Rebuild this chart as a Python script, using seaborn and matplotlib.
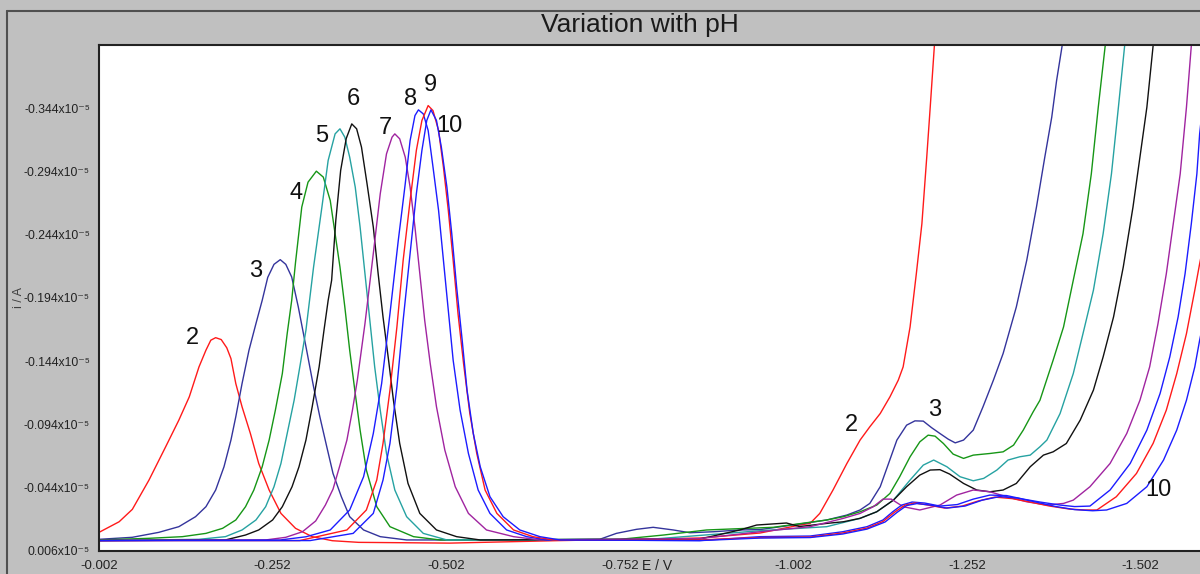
import matplotlib
matplotlib.use("Agg")
import matplotlib.pyplot as plt
import seaborn as sns
import pandas as pd
from matplotlib.lines import Line2D

# ===== data: (E / V, i / 1e-5 A) =====
ph2 = [(-0.002, -0.0085), (-0.031, -0.0169), (-0.050, -0.0267), (-0.074, -0.0499), (-0.098, -0.0762),
       (-0.117, -0.0973), (-0.132, -0.1157), (-0.146, -0.1394), (-0.156, -0.1526), (-0.163, -0.1605),
       (-0.170, -0.1625), (-0.178, -0.1610), (-0.186, -0.1545), (-0.192, -0.146), (-0.199, -0.1262),
       (-0.208, -0.1078), (-0.220, -0.0867),
       (-0.232, -0.063), (-0.247, -0.042), (-0.264, -0.0235), (-0.285, -0.0117), (-0.309, -0.0051),
       (-0.338, -0.0019), (-0.376, -0.0006), (-0.507, 0.0), (-0.666, -0.002), (-0.867, -0.004),
       (-0.954, -0.008), (-0.997, -0.0127), (-1.011, -0.0143), (-1.026, -0.0156), (-1.040, -0.0235),
       (-1.059, -0.042), (-1.079, -0.063), (-1.098, -0.0815), (-1.112, -0.092), (-1.127, -0.1025),
       (-1.141, -0.1157), (-1.153, -0.1289), (-1.160, -0.1394), (-1.170, -0.171), (-1.179, -0.2131),
       (-1.187, -0.2526), (-1.194, -0.3053), (-1.199, -0.3448), (-1.205, -0.3935), (-1.207, -0.405)]

ph3 = [(-0.002, -0.003), (-0.050, -0.0046), (-0.088, -0.0085), (-0.117, -0.013), (-0.141, -0.0209),
       (-0.156, -0.0288), (-0.170, -0.042), (-0.182, -0.0604), (-0.192, -0.0815), (-0.199, -0.100),
       (-0.208, -0.1262), (-0.218, -0.1526), (-0.228, -0.1736), (-0.237, -0.192), (-0.245, -0.2102),
       (-0.254, -0.2205), (-0.263, -0.2242), (-0.271, -0.2205), (-0.2795, -0.2105), (-0.289, -0.1868),
       (-0.301, -0.1526), (-0.311, -0.1236), (-0.320, -0.100), (-0.330, -0.0762), (-0.339, -0.0551),
       (-0.351, -0.0367), (-0.363, -0.0209), (-0.383, -0.0104), (-0.407, -0.0051), (-0.445, -0.0025),
       (-0.579, -0.0025), (-0.723, -0.003), (-0.747, -0.0077), (-0.776, -0.0109), (-0.800, -0.0125),
       (-0.829, -0.0104), (-0.853, -0.0082), (-0.887, -0.009), (-0.925, -0.0104), (-0.954, -0.0107),
       (-1.011, -0.0151), (-1.050, -0.0183), (-1.079, -0.0222), (-1.098, -0.0262), (-1.112, -0.0314),
       (-1.127, -0.0446), (-1.139, -0.063), (-1.151, -0.0815), (-1.165, -0.0933), (-1.177, -0.0967),
       (-1.189, -0.0965), (-1.201, -0.0913), (-1.213, -0.0867), (-1.225, -0.0822), (-1.235, -0.0793),
       (-1.247, -0.0815), (-1.261, -0.0894), (-1.275, -0.1078), (-1.290, -0.1289), (-1.304, -0.150),
       (-1.323, -0.1868), (-1.338, -0.2237), (-1.352, -0.2658), (-1.364, -0.3053), (-1.374, -0.3369),
       (-1.381, -0.3659), (-1.389, -0.3935), (-1.392, -0.405)]

ph4 = [(-0.002, -0.0025), (-0.074, -0.0038), (-0.122, -0.0051), (-0.156, -0.0077), (-0.180, -0.0117),
       (-0.199, -0.0183), (-0.213, -0.0288), (-0.225, -0.042), (-0.237, -0.0604), (-0.247, -0.0815),
       (-0.256, -0.1052), (-0.266, -0.1341), (-0.273, -0.1657), (-0.2795, -0.192), (-0.285, -0.222),
       (-0.294, -0.2658), (-0.303, -0.2855), (-0.315, -0.2942), (-0.325, -0.2895), (-0.335, -0.271),
       (-0.342, -0.2447), (-0.349, -0.2184), (-0.356, -0.1868), (-0.363, -0.1526), (-0.371, -0.1183),
       (-0.378, -0.0894), (-0.387, -0.0578), (-0.402, -0.0288), (-0.421, -0.013), (-0.455, -0.0051),
       (-0.493, -0.0025), (-0.752, -0.003), (-0.815, -0.0064), (-0.877, -0.0104), (-0.973, -0.0125),
       (-1.050, -0.0183), (-1.074, -0.0209), (-1.098, -0.0248), (-1.122, -0.0301), (-1.141, -0.0393),
       (-1.155, -0.0525), (-1.170, -0.0683), (-1.184, -0.0801), (-1.196, -0.0854), (-1.206, -0.0846),
       (-1.218, -0.0788), (-1.232, -0.0704), (-1.247, -0.067), (-1.261, -0.0696), (-1.285, -0.0709),
       (-1.304, -0.0722), (-1.319, -0.0775), (-1.333, -0.0894), (-1.347, -0.1036), (-1.357, -0.113),
       (-1.376, -0.1447), (-1.391, -0.171), (-1.405, -0.2079), (-1.419, -0.2447), (-1.431, -0.2921),
       (-1.441, -0.3448), (-1.451, -0.3935), (-1.453, -0.405)]

ph5 = [(-0.002, -0.002), (-0.146, -0.003), (-0.184, -0.0051), (-0.208, -0.0104), (-0.228, -0.0183),
       (-0.242, -0.0288), (-0.254, -0.0446), (-0.264, -0.063), (-0.273, -0.0867), (-0.283, -0.113),
       (-0.292, -0.142), (-0.300, -0.1684), (-0.311, -0.2184), (-0.323, -0.2658), (-0.332, -0.3027),
       (-0.342, -0.3237), (-0.349, -0.3277), (-0.356, -0.3211), (-0.363, -0.3053), (-0.371, -0.2816),
       (-0.378, -0.250), (-0.385, -0.2131), (-0.392, -0.1763), (-0.399, -0.1394), (-0.407, -0.1052),
       (-0.416, -0.0709), (-0.428, -0.042), (-0.445, -0.0209), (-0.469, -0.0077), (-0.503, -0.0025),
       (-0.795, -0.003), (-0.954, -0.0098), (-1.050, -0.013), (-1.098, -0.0196), (-1.122, -0.0248),
       (-1.146, -0.034), (-1.170, -0.0499), (-1.189, -0.0617), (-1.204, -0.0657), (-1.223, -0.0604),
       (-1.242, -0.0525), (-1.261, -0.0493), (-1.276, -0.0512), (-1.295, -0.0578), (-1.311, -0.0657),
       (-1.328, -0.0683), (-1.343, -0.0696), (-1.357, -0.0762), (-1.367, -0.0815), (-1.386, -0.1025),
       (-1.405, -0.1341), (-1.419, -0.1657), (-1.434, -0.200), (-1.448, -0.2447), (-1.460, -0.2921),
       (-1.470, -0.3448), (-1.479, -0.3935), (-1.481, -0.405)]

ph6 = [(-0.002, -0.002), (-0.184, -0.0025), (-0.213, -0.0064), (-0.232, -0.0104), (-0.252, -0.0183),
       (-0.266, -0.0288), (-0.280, -0.0446), (-0.290, -0.0604), (-0.300, -0.0815), (-0.309, -0.1078),
       (-0.319, -0.1394), (-0.326, -0.1684), (-0.332, -0.192), (-0.337, -0.2079), (-0.343, -0.2553),
       (-0.350, -0.2948), (-0.358, -0.320), (-0.366, -0.3316), (-0.373, -0.3277), (-0.380, -0.3132),
       (-0.388, -0.2842), (-0.397, -0.250), (-0.404, -0.2131), (-0.411, -0.1789), (-0.419, -0.1447),
       (-0.426, -0.113), (-0.435, -0.0789), (-0.447, -0.0472), (-0.464, -0.0235), (-0.488, -0.0104),
       (-0.517, -0.0051), (-0.551, -0.0025), (-0.867, -0.0032), (-0.925, -0.0104), (-0.949, -0.0143),
       (-0.992, -0.0159), (-1.011, -0.0131), (-1.050, -0.0156), (-1.074, -0.0169), (-1.098, -0.0196),
       (-1.122, -0.0248), (-1.146, -0.034), (-1.165, -0.0446), (-1.184, -0.0538), (-1.199, -0.0578),
       (-1.213, -0.0581), (-1.227, -0.0546), (-1.247, -0.0472), (-1.266, -0.042), (-1.285, -0.0406),
       (-1.304, -0.042), (-1.323, -0.0472), (-1.343, -0.0604), (-1.362, -0.0696), (-1.376, -0.0722),
       (-1.395, -0.0788), (-1.415, -0.0973), (-1.434, -0.121), (-1.448, -0.1473), (-1.463, -0.1789),
       (-1.477, -0.2184), (-1.491, -0.2658), (-1.501, -0.3053), (-1.511, -0.3448), (-1.520, -0.3935),
       (-1.523, -0.405)]

ph7 = [(-0.002, -0.002), (-0.242, -0.0025), (-0.271, -0.0046), (-0.295, -0.009), (-0.314, -0.0175),
       (-0.328, -0.0301), (-0.339, -0.0427), (-0.349, -0.0617), (-0.359, -0.0815), (-0.367, -0.1052),
       (-0.374, -0.1289), (-0.385, -0.1736), (-0.397, -0.229), (-0.407, -0.2763), (-0.416, -0.3079),
       (-0.424, -0.3211), (-0.428, -0.3237), (-0.435, -0.3198), (-0.443, -0.3053), (-0.450, -0.2816),
       (-0.457, -0.250), (-0.464, -0.2131), (-0.471, -0.1763), (-0.479, -0.142), (-0.488, -0.1078),
       (-0.500, -0.0736), (-0.515, -0.0446), (-0.534, -0.0235), (-0.560, -0.0104), (-0.599, -0.0051),
       (-0.637, -0.0025), (-0.867, -0.0036), (-0.954, -0.009), (-1.026, -0.013), (-1.074, -0.0196),
       (-1.098, -0.0235), (-1.117, -0.0288), (-1.131, -0.0348), (-1.143, -0.0348), (-1.160, -0.0288),
       (-1.184, -0.0262), (-1.213, -0.0301), (-1.237, -0.038), (-1.261, -0.042), (-1.285, -0.0406),
       (-1.309, -0.0367), (-1.338, -0.0327), (-1.367, -0.0301), (-1.391, -0.0314), (-1.405, -0.034),
       (-1.429, -0.0446), (-1.458, -0.063), (-1.482, -0.0867), (-1.501, -0.113), (-1.515, -0.1394),
       (-1.527, -0.1736), (-1.539, -0.2131), (-1.549, -0.2526), (-1.559, -0.2921), (-1.568, -0.3448),
       (-1.575, -0.3935), (-1.577, -0.405)]

ph8 = [(-0.002, -0.002), (-0.263, -0.0025), (-0.300, -0.005), (-0.335, -0.0104), (-0.363, -0.0262),
       (-0.383, -0.0525), (-0.397, -0.0867), (-0.409, -0.1262), (-0.421, -0.1815), (-0.433, -0.2395),
       (-0.443, -0.2842), (-0.450, -0.3184), (-0.457, -0.3382), (-0.462, -0.3427), (-0.469, -0.3395),
       (-0.476, -0.3264), (-0.483, -0.2974), (-0.491, -0.2632), (-0.498, -0.2237), (-0.505, -0.1842),
       (-0.512, -0.1447), (-0.522, -0.1052), (-0.534, -0.0709), (-0.548, -0.042), (-0.565, -0.0235),
       (-0.589, -0.0104), (-0.618, -0.0051), (-0.647, -0.0025), (-0.867, -0.002), (-0.954, -0.0051),
       (-1.026, -0.0056), (-1.073, -0.009), (-1.108, -0.013), (-1.131, -0.0183), (-1.145, -0.0248),
       (-1.158, -0.0301), (-1.173, -0.0325), (-1.191, -0.0317), (-1.213, -0.0293), (-1.238, -0.0305),
       (-1.261, -0.0348), (-1.285, -0.038), (-1.309, -0.0376), (-1.333, -0.0348), (-1.357, -0.0325),
       (-1.386, -0.0301), (-1.407, -0.0289), (-1.429, -0.0293), (-1.458, -0.042), (-1.487, -0.063),
       (-1.511, -0.0894), (-1.530, -0.1183), (-1.544, -0.1473), (-1.556, -0.1789), (-1.566, -0.2131),
       (-1.575, -0.2526), (-1.583, -0.2921), (-1.587, -0.3237), (-1.592, -0.349)]

ph9 = [(-0.002, -0.002), (-0.291, -0.002), (-0.359, -0.0104), (-0.387, -0.0262), (-0.402, -0.0499),
       (-0.411, -0.0789), (-0.421, -0.121), (-0.431, -0.171), (-0.440, -0.2237), (-0.450, -0.271),
       (-0.459, -0.3106), (-0.467, -0.3343), (-0.476, -0.3461), (-0.483, -0.3421), (-0.491, -0.3264),
       (-0.498, -0.2974), (-0.505, -0.2632), (-0.512, -0.2237), (-0.519, -0.1815), (-0.527, -0.142),
       (-0.536, -0.1025), (-0.546, -0.0709), (-0.558, -0.042), (-0.575, -0.0235), (-0.599, -0.0104),
       (-0.627, -0.0051), (-0.656, -0.0025), (-0.867, -0.0025), (-0.954, -0.0044), (-1.026, -0.0048),
       (-1.073, -0.008), (-1.108, -0.0119), (-1.131, -0.0171), (-1.148, -0.0246), (-1.163, -0.0301),
       (-1.177, -0.0317), (-1.196, -0.0301), (-1.220, -0.0277), (-1.245, -0.0293), (-1.268, -0.0333),
       (-1.292, -0.0364), (-1.317, -0.0352), (-1.343, -0.0325), (-1.371, -0.0293), (-1.400, -0.0269),
       (-1.422, -0.0262), (-1.439, -0.0262), (-1.467, -0.0367), (-1.496, -0.0551), (-1.520, -0.0789),
       (-1.539, -0.1052), (-1.554, -0.1341), (-1.568, -0.1657), (-1.580, -0.200), (-1.587, -0.221),
       (-1.595, -0.2434)]

ph10 = [(-0.002, -0.002), (-0.306, -0.002), (-0.368, -0.0077), (-0.397, -0.0235), (-0.411, -0.0499),
        (-0.421, -0.0789), (-0.431, -0.1236), (-0.440, -0.1763), (-0.450, -0.229), (-0.459, -0.2763),
        (-0.467, -0.3106), (-0.474, -0.3343), (-0.480, -0.3427), (-0.488, -0.3343), (-0.495, -0.3132),
        (-0.503, -0.2816), (-0.510, -0.2447), (-0.517, -0.2026), (-0.525, -0.1605), (-0.532, -0.121),
        (-0.541, -0.0867), (-0.551, -0.0604), (-0.565, -0.0367), (-0.584, -0.0209), (-0.608, -0.0104),
        (-0.637, -0.0051), (-0.666, -0.0025), (-0.867, -0.002), (-0.954, -0.004), (-1.026, -0.0044),
        (-1.073, -0.0072), (-1.108, -0.0111), (-1.134, -0.0167), (-1.151, -0.0242), (-1.165, -0.0297),
        (-1.180, -0.0313), (-1.199, -0.0301), (-1.223, -0.0277), (-1.249, -0.0293), (-1.274, -0.034),
        (-1.299, -0.0368), (-1.325, -0.0356), (-1.351, -0.0325), (-1.380, -0.0289), (-1.407, -0.0265),
        (-1.433, -0.0256), (-1.453, -0.0262), (-1.482, -0.0314), (-1.511, -0.0446), (-1.535, -0.0657),
        (-1.554, -0.0894), (-1.568, -0.113), (-1.580, -0.1394), (-1.587, -0.1605), (-1.596, -0.1842)]

curves = {"2": ph2, "3": ph3, "4": ph4, "5": ph5, "6": ph6,
          "7": ph7, "8": ph8, "9": ph9, "10": ph10}

colors = {"2": "#ff1a1a", "3": "#34349c", "4": "#169616", "5": "#26a2a2", "6": "#111111",
          "7": "#a024a0", "8": "#1c1cff", "9": "#ff1a1a", "10": "#1c1cff"}

x_ticks = [-0.002, -0.252, -0.502, -0.752, -1.002, -1.252, -1.502]
x_minor = [-0.127, -0.377, -0.627, -0.877, -1.127, -1.377]
y_ticks = [0.006, -0.044, -0.094, -0.144, -0.194, -0.244, -0.294, -0.344]
y_minor = [-0.019, -0.069, -0.119, -0.169, -0.219, -0.269, -0.319, -0.369]

# pH labels written on the curves (text, E, i)
labels = [("2", -0.137, -0.162), ("3", -0.227, -0.2156), ("4", -0.286, -0.2773),
          ("5", -0.323, -0.3223), ("6", -0.369, -0.3514), ("7", -0.414, -0.3285),
          ("8", -0.451, -0.3514), ("9", -0.479, -0.3625), ("10", -0.506, -0.3301),
          ("2", -1.086, -0.0933), ("3", -1.206, -0.1052), ("10", -1.528, -0.042)]

# ===== figure =====
sns.set_style("white")
plt.rcParams['font.family'] = ['Liberation Sans', 'DejaVu Sans']

W, H = 1200, 574
fig = plt.figure(figsize=(W / 100, H / 100), dpi=100, facecolor="#c0c0c0")
ax = fig.add_axes([99 / W, 23.3 / H, 1101 / W, 505.7 / H])
ax.set_facecolor("white")

rows = []
for ph, pts in curves.items():
    for e, i in pts:
        rows.append((e, i, ph))
df = pd.DataFrame(rows, columns=["E", "I", "pH"])

sns.lineplot(data=df, x="E", y="I", hue="pH", hue_order=list(curves.keys()), palette=colors,
             sort=False, estimator=None, legend=False, linewidth=1.0, ax=ax)

for s, e, i in labels:
    ax.text(e, i, s, fontsize=17, ha="center", va="center", color="#111111")

ax.set_xlabel("")
ax.set_ylabel("")

# ticks first, limits afterwards (set_ticks may widen the view)
ax.set_xticks(x_ticks)
ax.set_xticklabels([f"{v:.3f}" for v in x_ticks], fontsize=9.5)
ax.set_xticks(x_minor, minor=True)
ax.set_yticks(y_ticks)
ax.set_yticklabels([f"{v:.3f}x10\u207b\u2075" for v in y_ticks], fontsize=8.8)
ax.set_yticks(y_minor, minor=True)

ax.set_xlim(-0.002, -1.5875)
ax.set_ylim(0.006, -0.394)

ax.tick_params(which="major", direction="out", length=5, width=1, colors="#222222", pad=1.5)
ax.tick_params(which="minor", direction="out", length=3, width=1, colors="#222222")
ax.tick_params(axis="x", which="major", pad=2)

for side in ["left", "bottom", "top"]:
    ax.spines[side].set_color("#222222")
    ax.spines[side].set_linewidth(1.5)
ax.spines["right"].set_visible(False)

# title bar text, axis names and the window frame
fig.text(640 / W, 1 - 25 / H, "Variation with pH", ha="center", va="center",
         fontsize=19, color="#1a1a1a")
fig.text(19 / W, 1 - 298 / H, "i / A", rotation=90, ha="center", va="center",
         fontsize=9, color="#404040")
fig.text(657 / W, 1 - 573.5 / H, "E / V", ha="center", va="bottom", fontsize=10, color="#222222")

fig.add_artist(Line2D([7 / W, 1], [1 - 10.5 / H, 1 - 10.5 / H], color="#505050", lw=1.5,
                      transform=fig.transFigure))
fig.add_artist(Line2D([7 / W, 7 / W], [0, 1 - 10.5 / H], color="#505050", lw=1.5,
                      transform=fig.transFigure))

fig.savefig("out.png", dpi=100, facecolor=fig.get_facecolor())
